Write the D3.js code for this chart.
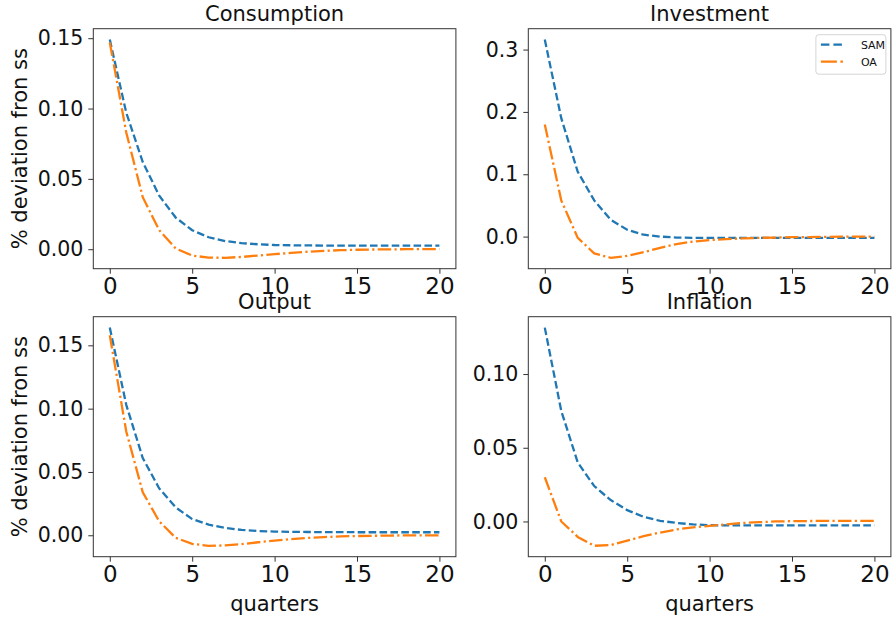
<!DOCTYPE html>
<html>
<head>
<meta charset="utf-8">
<script src="https://cdn.jsdelivr.net/npm/d3@7"></script>
<style>
  body { margin: 0; background: #fff; }
  svg { display: block; font-family: "DejaVu Sans", sans-serif; }
</style>
</head>
<body>
<script>
const width = 893;
const height = 620;

// data, one value per quarter
const quarters = d3.range(0, 21);
const seriesNames = ["SAM", "OA"];

const consumptionSAM = [0.149, 0.097, 0.062, 0.038, 0.0225, 0.0135, 0.0085, 0.0058, 0.0043, 0.0035, 0.0030, 0.0028, 0.0027, 0.0026, 0.0026, 0.0026, 0.0025, 0.0025, 0.0025, 0.0025, 0.0025];
const consumptionOA = [0.147, 0.083, 0.037, 0.0135, 0.0005, -0.0045, -0.0060, -0.0061, -0.0055, -0.0045, -0.0035, -0.0026, -0.0018, -0.0012, -0.0007, -0.0004, -0.0002, -0.0001, 0, 0, 0];

const investmentSAM = [0.316, 0.190, 0.104, 0.058, 0.027, 0.011, 0.003, 0.000, -0.0015, -0.002, -0.002, -0.002, -0.002, -0.002, -0.002, -0.002, -0.002, -0.002, -0.002, -0.002, -0.002];
const investmentOA = [0.180, 0.058, -0.002, -0.027, -0.034, -0.031, -0.025, -0.018, -0.012, -0.008, -0.0055, -0.004, -0.003, -0.002, -0.0015, -0.001, -0.0007, -0.0004, -0.0002, -0.0001, 0];

const outputSAM = [0.164, 0.103, 0.061, 0.037, 0.022, 0.0128, 0.0084, 0.0058, 0.0042, 0.0034, 0.0029, 0.0027, 0.0026, 0.0025, 0.0025, 0.0024, 0.0024, 0.0024, 0.0024, 0.0024, 0.0024];
const outputOA = [0.158, 0.082, 0.034, 0.011, -0.002, -0.0068, -0.0083, -0.008, -0.007, -0.0055, -0.0042, -0.003, -0.0021, -0.0014, -0.0009, -0.0006, -0.0004, -0.0002, -0.0001, 0, 0];

const inflationSAM = [0.1315, 0.075, 0.040, 0.024, 0.0145, 0.0077, 0.0031, 0.0004, -0.001, -0.002, -0.0025, -0.0027, -0.0027, -0.0027, -0.0027, -0.0027, -0.0027, -0.0027, -0.0027, -0.0027, -0.0027];
const inflationOA = [0.030, 0.000, -0.0105, -0.0165, -0.016, -0.013, -0.010, -0.0075, -0.0054, -0.004, -0.003, -0.002, -0.001, -0.0005, 0, 0.0002, 0.0003, 0.0004, 0.0004, 0.0004, 0.0004];

const titles = ["Consumption", "Investment", "Output", "Inflation"];
const xTicks = [0, 5, 10, 15, 20];
const yTicksConsumption = [0, 0.05, 0.10, 0.15];
const yTicksInvestment = [0, 0.1, 0.2, 0.3];
const yTicksOutput = [0, 0.05, 0.10, 0.15];
const yTicksInflation = [0, 0.05, 0.10];

const ylabel = "% deviation fron ss";
const xlabel = "quarters";

const colors = ["#1f77b4", "#ff7f0e"];
const dashes = ["7.6,3.3", "13.5,3.3,2.2,3.3"];

// panel layout
const colX = [93.3, 528.3];
const rowY = [28.7, 316.7];
const pw = 362.6;
const ph = 240;

const panels = [
  {title: titles[0], sam: consumptionSAM, oa: consumptionOA, ticks: yTicksConsumption, fmt: ".2f", col: 0, row: 0},
  {title: titles[1], sam: investmentSAM, oa: investmentOA, ticks: yTicksInvestment, fmt: ".1f", col: 1, row: 0, legend: true},
  {title: titles[2], sam: outputSAM, oa: outputOA, ticks: yTicksOutput, fmt: ".2f", col: 0, row: 1},
  {title: titles[3], sam: inflationSAM, oa: inflationOA, ticks: yTicksInflation, fmt: ".2f", col: 1, row: 1}
];

const svg = d3.select("body")
  .append("svg")
  .attr("width", width)
  .attr("height", height);

const xScale = d3.scaleLinear().domain([-1, 21]).range([0, pw]);

panels.forEach(function(p, i){
  var g = svg.append("g")
    .attr("transform", "translate(" + colX[p.col] + "," + rowY[p.row] + ")");

  // matplotlib style 5% margins
  var ext = d3.extent(p.sam.concat(p.oa));
  var pad = (ext[1] - ext[0]) * 0.05;
  var yScale = d3.scaleLinear().domain([ext[0] - pad, ext[1] + pad]).range([ph, 0]);

  g.append("clipPath").attr("id", "clip" + i)
    .append("rect").attr("width", pw).attr("height", ph);

  var line = d3.line()
    .x(function(d, j){ return xScale(quarters[j]); })
    .y(function(d){ return yScale(d); });

  [p.sam, p.oa].forEach(function(s, k){
    g.append("path")
      .datum(s)
      .attr("clip-path", "url(#clip" + i + ")")
      .attr("fill", "none")
      .attr("stroke", colors[k])
      .attr("stroke-width", 2.3)
      .attr("stroke-dasharray", dashes[k])
      .attr("d", line);
  });

  var xAxis = g.append("g")
    .attr("transform", "translate(0," + ph + ")")
    .call(d3.axisBottom(xScale).tickValues(xTicks).tickSize(5).tickPadding(4).tickFormat(d3.format("d")));
  xAxis.select(".domain").remove();
  xAxis.selectAll("text").attr("font-size", 23).attr("fill", "#111").attr("font-family", "DejaVu Sans");
  xAxis.selectAll("line").attr("stroke", "#333");

  var yAxis = g.append("g")
    .call(d3.axisLeft(yScale).tickValues(p.ticks).tickSize(5).tickPadding(5).tickFormat(d3.format(p.fmt)));
  yAxis.select(".domain").remove();
  yAxis.selectAll("text").attr("font-size", 20.5).attr("fill", "#111").attr("font-family", "DejaVu Sans");
  yAxis.selectAll("line").attr("stroke", "#333");

  g.append("rect")
    .attr("width", pw)
    .attr("height", ph)
    .attr("fill", "none")
    .attr("stroke", "#333")
    .attr("stroke-width", 1);

  g.append("text")
    .attr("x", pw / 2)
    .attr("y", -8)
    .attr("text-anchor", "middle")
    .attr("font-size", 21)
    .attr("fill", "#111")
    .text(p.title);

  if(p.col == 0){
    g.append("text")
      .attr("transform", "translate(" + (-66) + "," + (ph / 2) + ") rotate(-90)")
      .attr("text-anchor", "middle")
      .attr("font-size", 21)
      .attr("fill", "#111")
      .text(ylabel);
  }

  if(p.row == 1){
    g.append("text")
      .attr("x", pw / 2)
      .attr("y", ph + 54)
      .attr("text-anchor", "middle")
      .attr("font-size", 21)
      .attr("fill", "#111")
      .text(xlabel);
  }

  if(p.legend){
    var lg = g.append("g").attr("transform", "translate(" + (pw - 75) + ",6)");
    lg.append("rect")
      .attr("width", 70)
      .attr("height", 39.5)
      .attr("rx", 3)
      .attr("fill", "#fff")
      .attr("fill-opacity", 0.8)
      .attr("stroke", "#d5d5d5");
    seriesNames.forEach(function(name, k){
      var yy = 10 + k * 17;
      lg.append("line")
        .attr("x1", 5).attr("x2", 27)
        .attr("y1", yy).attr("y2", yy)
        .attr("stroke", colors[k])
        .attr("stroke-width", 2.3)
        .attr("stroke-dasharray", k == 0 ? "8.5,4" : "16,3.5,2.5,3.5");
      lg.append("text")
        .attr("x", 45)
        .attr("y", yy + 4.5)
        .attr("font-size", 11)
        .attr("fill", "#111")
        .text(name);
    });
  }
});
</script>
</body>
</html>
